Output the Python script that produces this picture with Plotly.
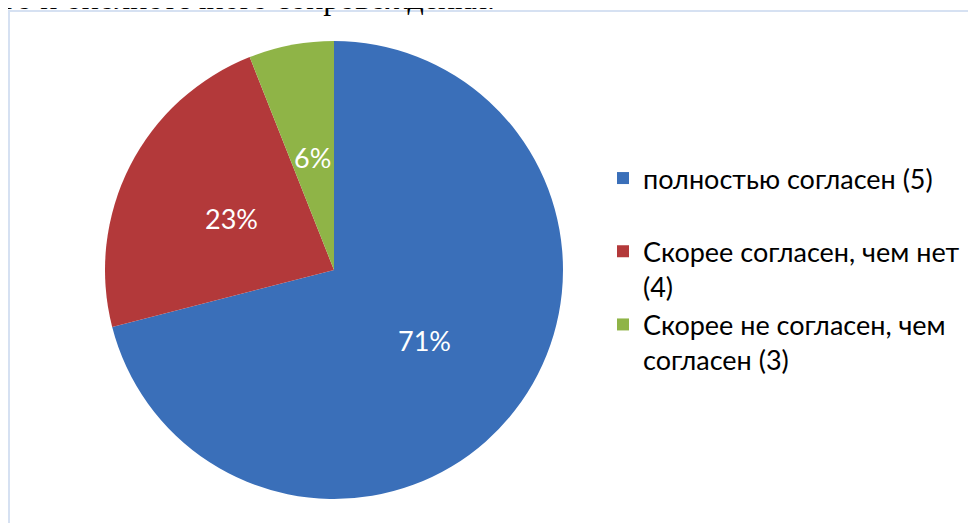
import math
import plotly.graph_objects as go

categories = ["полностью согласен (5)", "Скорее согласен, чем нет (4)", "Скорее не согласен, чем согласен (3)"]
legend_labels = ["полностью согласен (5)<br> ", "Скорее согласен, чем нет<br>(4)", "Скорее не согласен, чем<br>согласен (3)"]
values = [71, 23, 6]
colors = ["#3a6fb9", "#b3393a", "#8fb447"]
top_text = "ого и библиотечного сопровождения."

W, H = 976, 523
OFF = 8  # default page body margin
cx, cy, r = 334 - OFF, 270 - OFF, 229  # pie center / radius in figure pixels

def px(x):
    return x / W

def py(y):
    return 1 - y / H

fig = go.Figure()
fig.add_trace(go.Pie(
    labels=legend_labels,
    values=values,
    sort=False,
    direction="clockwise",
    rotation=0,
    marker=dict(colors=colors, line=dict(color="white", width=0)),
    textinfo="none",
    hoverinfo="label+percent",
    domain=dict(x=[px(cx - r), px(cx + r)], y=[py(cy + r), py(cy - r)]),
))

# percentage labels at half radius along each slice bisector (as in the original)
total = sum(values)
annotations = []
cum = 0
for v in values:
    mid = (cum + v / 2) / total * 2 * math.pi
    cum += v
    lx = cx + 0.5 * r * math.sin(mid)
    ly = cy - 0.5 * r * math.cos(mid)
    annotations.append(dict(
        text=f"{round(v / total * 100)}%", xref="paper", yref="paper",
        x=px(lx), y=py(ly), xanchor="center", yanchor="middle", showarrow=False,
        font=dict(color="white", size=27, family="Lato, Noto Sans, sans-serif"),
    ))

annotations.append(dict(
    text=top_text,
    xref="paper", yref="paper", x=px(497 - OFF), y=1 + 10 / H,
    xanchor="right", yanchor="middle", showarrow=False,
    font=dict(family="Liberation Serif, Times New Roman, serif", size=32, color="black"),
))

fig.update_layout(
    width=W, height=H,
    margin=dict(l=0, r=0, t=0, b=0),
    paper_bgcolor="white",
    plot_bgcolor="white",
    showlegend=True,
    legend=dict(
        x=px(603 - OFF), y=py(154 - OFF), xanchor="left", yanchor="top",
        font=dict(size=27, color="black", family="Lato, Noto Sans, sans-serif"),
        valign="top",
        bgcolor="rgba(0,0,0,0)",
    ),
    shapes=[dict(
        type="rect", xref="paper", yref="paper",
        x0=px(9 - OFF), x1=1.05, y0=-0.05, y1=py(11 - OFF),
        line=dict(color="#d6e1f2", width=2), fillcolor="rgba(0,0,0,0)", layer="below",
    )],
    annotations=annotations,
)

fig.write_html("out.html")
